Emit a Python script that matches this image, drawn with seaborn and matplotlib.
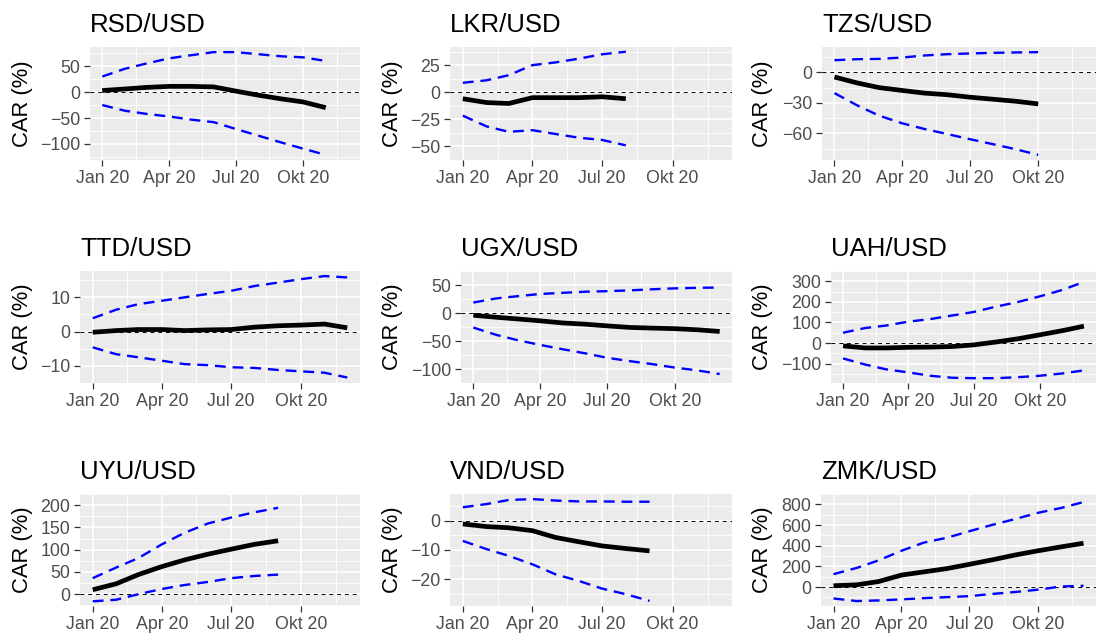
import matplotlib
matplotlib.use("Agg")
import matplotlib.pyplot as plt
import matplotlib.dates as mdates
import numpy as np
import pandas as pd
import seaborn as sns

# Monatswerte 2020
months = pd.date_range("2020-01-01", periods=12, freq="MS")
tick_dates = pd.to_datetime(["2020-01-01", "2020-04-01", "2020-07-01", "2020-10-01", "2021-01-01"])
tick_labels = ["Jan 20", "Apr 20", "Jul 20", "Okt 20"]

rsd_car = [3, 6, 9, 11, 11, 10, 2, -6, -13, -19, -30]
rsd_hi = [30, 45, 55, 65, 71, 77, 77, 73, 69, 67, 60]
rsd_lo = [-25, -36, -42, -47, -53, -58, -71, -84, -97, -109, -121]

lkr_car = [-6, -9.5, -10.4, -5, -5, -5, -4.2, -6]
lkr_hi = [8.7, 11, 15.7, 25, 27.5, 31, 35, 37.4]
lkr_lo = [-21.6, -31.5, -36.5, -35, -38.5, -42, -44, -49]

tzs_car = [-4.6, -10.5, -15, -17.8, -20.4, -22, -24.4, -26.4, -28.4, -31]
tzs_hi = [11.9, 12.9, 13.2, 14.5, 16.5, 17.8, 18.5, 19.1, 19.5, 19.8]
tzs_lo = [-20.4, -32.6, -42.5, -50, -55.6, -60.6, -65.6, -70.5, -75.5, -81]

ttd_car = [-0.2, 0.3, 0.6, 0.6, 0.3, 0.5, 0.6, 1.3, 1.7, 1.9, 2.2, 1.1]
ttd_hi = [3.9, 6.4, 8.0, 9.0, 10.0, 11.0, 11.9, 13.3, 14.3, 15.3, 16.2, 15.8]
ttd_lo = [-4.6, -6.6, -7.5, -8.5, -9.5, -9.8, -10.4, -10.6, -11.2, -11.6, -12.0, -13.4]

ugx_car = [-4, -7.6, -10.6, -14, -17.7, -20, -23, -25.8, -27, -28, -30, -33]
ugx_hi = [18.7, 26, 30, 34, 36, 38, 39, 40.4, 42.4, 44, 45, 45.5]
ugx_lo = [-26, -39, -48.5, -57, -64.6, -72, -80, -86, -91.4, -97.5, -102.5, -109]

uah_car = [-14, -24, -24, -21, -20, -17, -9, 5, 21, 40, 60, 82]
uah_hi = [50, 73, 85, 104, 116, 134, 151, 177, 200, 227, 258, 297]
uah_lo = [-75, -105, -128, -143, -159, -169, -171, -171, -166, -159, -148, -133]

uyu_car = [10, 23.5, 44, 62, 77, 90, 101, 112, 120]
uyu_hi = [36, 60, 81, 112, 138, 159, 172, 184, 194]
uyu_lo = [-16, -12.4, 0, 11.7, 20.7, 27.6, 36, 41, 44]

vnd_car = [-1.1, -2.0, -2.4, -3.4, -5.7, -7.2, -8.6, -9.5, -10.3]
vnd_hi = [4.6, 5.7, 7.1, 7.4, 6.9, 6.6, 6.6, 6.5, 6.5]
vnd_lo = [-6.9, -9.7, -12, -14.9, -18.3, -20.6, -23.2, -25.1, -27.4]

zmk_car = [13, 22, 53, 116, 147, 179, 220, 264, 311, 351, 389, 424]
zmk_hi = [125, 185, 257, 351, 430, 477, 540, 602, 659, 718, 765, 822]
zmk_lo = [-110, -135, -129, -119, -107, -97, -88, -66, -47, -25, 6, 13]

panels = [
    ("RSD/USD", rsd_car, rsd_hi, rsd_lo, [-100, -50, 0, 50], (90, 47, 360, 160), 33),
    ("LKR/USD", lkr_car, lkr_hi, lkr_lo, [-50, -25, 0, 25], (450, 47, 732, 160), 403),
    ("TZS/USD", tzs_car, tzs_hi, tzs_lo, [-60, -30, 0], (822, 47, 1096, 160), 773),
    ("TTD/USD", ttd_car, ttd_hi, ttd_lo, [-10, 0, 10], (80, 271, 360, 383), 33),
    ("UGX/USD", ugx_car, ugx_hi, ugx_lo, [-100, -50, 0, 50], (461, 271, 732, 383), 403),
    ("UAH/USD", uah_car, uah_hi, uah_lo, [-100, 0, 100, 200, 300], (831, 271, 1096, 383), 773),
    ("UYU/USD", uyu_car, uyu_hi, uyu_lo, [0, 50, 100, 150, 200], (80, 494, 360, 606), 33),
    ("VND/USD", vnd_car, vnd_hi, vnd_lo, [-20, -10, 0], (450, 494, 732, 606), 403),
    ("ZMK/USD", zmk_car, zmk_hi, zmk_lo, [0, 200, 400, 600, 800], (821, 494, 1096, 606), 773),
]

sns.set_theme(style="darkgrid", rc={
    "axes.facecolor": "#EBEBEB",
    "grid.color": "white",
    "xtick.color": "#333333",
    "ytick.color": "#333333",
})
plt.rcParams["font.family"] = ["Liberation Sans", "DejaVu Sans"]

W, H = 1096, 633
fig = plt.figure(figsize=(W / 100, H / 100), dpi=100)

span = months[-1] - months[0]
x_lo = mdates.date2num(months[0] - 0.05 * span)
x_hi = mdates.date2num(months[-1] + 0.05 * span)
major_x = mdates.date2num(tick_dates[:4])
minor_x = mdates.date2num(tick_dates[:-1] + (tick_dates[1:] - tick_dates[:-1]) / 2)

for name, car, hi, lo, yticks, (l, t, r, b), lab_x in panels:
    ax = fig.add_axes([l / W, 1 - b / H, (r - l) / W, (b - t) / H])
    ax.axhline(0, color="black", linewidth=0.7, linestyle=(0, (4, 4)), zorder=1)
    sns.lineplot(x=months[:len(hi)], y=hi, ax=ax, color="blue", linewidth=1.7,
                 linestyle=(0, (4.6, 2.9)), zorder=2)
    sns.lineplot(x=months[:len(lo)], y=lo, ax=ax, color="blue", linewidth=1.7,
                 linestyle=(0, (4.6, 2.9)), zorder=2)
    sns.lineplot(x=months[:len(car)], y=car, ax=ax, color="black", linewidth=3.4,
                 solid_capstyle="butt", zorder=3)
    ax.set_xlim(x_lo, x_hi)
    ax.set_xticks(major_x)
    ax.set_xticklabels(tick_labels)
    ax.set_xticks(minor_x, minor=True)
    ax.set_yticks(yticks)
    ax.set_yticklabels([f"{v:g}".replace("-", "\u2212") for v in yticks])
    step = yticks[1] - yticks[0]
    ax.set_yticks([yticks[0] - step / 2] + [v + step / 2 for v in yticks], minor=True)
    ax.grid(which="major", color="white", linewidth=1.2)
    ax.grid(which="minor", color="white", linewidth=0.6)
    ax.tick_params(which="major", length=4, width=0.9, pad=3, labelsize=12.8,
                   labelcolor="#4D4D4D", left=True, bottom=True)
    ax.tick_params(which="minor", length=0)
    for s in ax.spines.values():
        s.set_visible(False)
    ax.set_xlabel("")
    ax.set_ylabel("CAR (%)", fontsize=15.8, color="black")
    ax.yaxis.set_label_coords((lab_x - l) / (r - l), 0.5)
    ax.set_title(name, loc="left", fontsize=18.5, pad=11, color="black")

plt.savefig("out.png", dpi=100)
